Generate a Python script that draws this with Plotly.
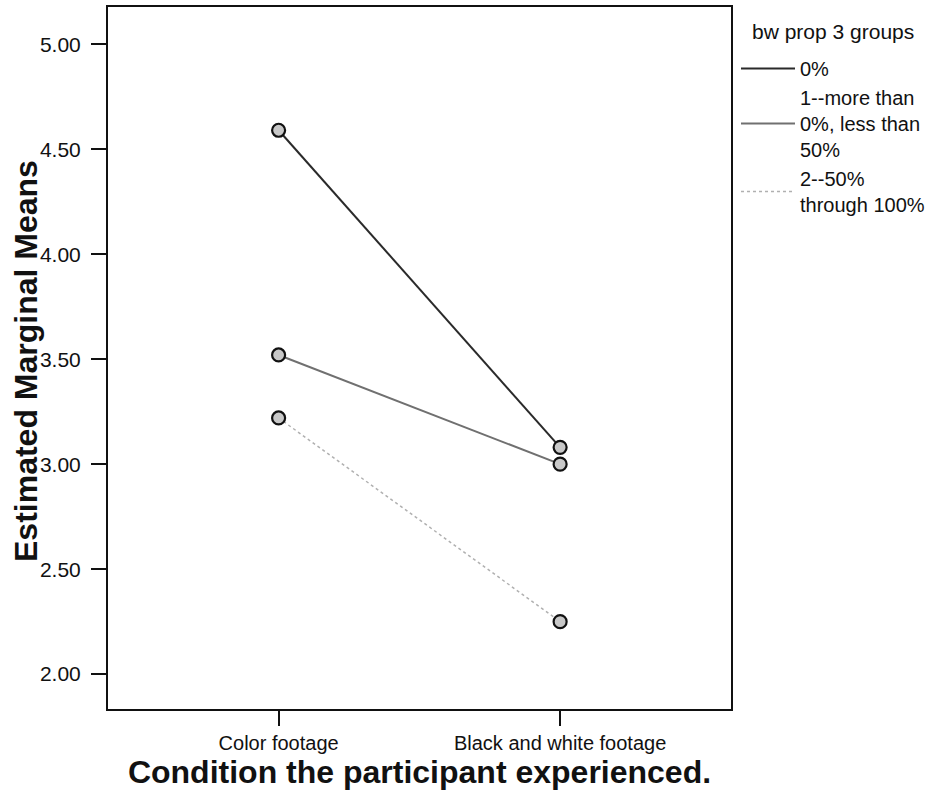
import plotly.graph_objects as go

categories = ["Color footage", "Black and white footage"]
group_names = ["0%", "1--more than<br>0%, less than<br>50%", "2--50%<br>through 100%"]
group_0 = [4.59, 3.08]
group_1 = [3.52, 3.00]
group_2 = [3.22, 2.25]
y_ticks = [2.0, 2.5, 3.0, 3.5, 4.0, 4.5, 5.0]
y_tick_labels = ["2.00", "2.50", "3.00", "3.50", "4.00", "4.50", "5.00"]
legend_title = "bw prop 3 groups"
y_title = "Estimated Marginal Means"
x_title = "Condition the participant experienced."

series = [group_0, group_1, group_2]
line_colors = ["#2a2a2a", "#707070", "#b0b0b0"]
line_widths = [2, 2, 1.5]
line_dash = ["solid", "solid", "dot"]

fig = go.Figure()
for i, (name, vals, col, w, dash) in enumerate(zip(group_names, series, line_colors, line_widths, line_dash)):
    fig.add_trace(go.Scatter(
        x=[0, 1], y=vals, name=name, mode="lines+markers",
        legendgroup=f"g{i}", showlegend=False,
        line=dict(color=col, width=w, dash=dash),
        marker=dict(symbol="circle", size=13, color="#c8c8c8",
                    line=dict(color="#111111", width=2.2)),
    ))
    # legend-only entry (line sample without marker)
    fig.add_trace(go.Scatter(
        x=[None], y=[None], name=name, mode="lines",
        legendgroup=f"g{i}", showlegend=True,
        line=dict(color=col, width=w, dash=dash),
    ))

font_main = "Liberation Sans, Arial, sans-serif"

fig.add_annotation(
    text=legend_title, xref="paper", yref="paper",
    x=1.0 + (750 - 731) / 623, y=1 - (30 - 5) / 704,
    xanchor="left", yanchor="middle", showarrow=False,
    font=dict(size=21, family=font_main, color="#111111"),
)
fig.add_annotation(
    text=f"<b>{y_title}</b>", xref="paper", yref="paper",
    x=(26 - 108) / 623, y=1 - (360 - 5) / 704,
    xanchor="center", yanchor="middle", textangle=-90, showarrow=False,
    font=dict(size=32, family=font_main, color="#111111"),
)

fig.update_layout(
    width=948, height=804,
    margin=dict(l=108, r=217, t=5, b=95),
    paper_bgcolor="white", plot_bgcolor="white",
    font=dict(family=font_main, size=20, color="#111111"),
    showlegend=True,
    legend=dict(
        x=1.0 + (736 - 731) / 623, xanchor="left",
        y=1 - (47 - 5) / 704, yanchor="top",
        font=dict(size=20), tracegroupgap=0,
        itemwidth=54, bgcolor="rgba(0,0,0,0)", valign="middle",
    ),
    xaxis=dict(
        range=[-0.606, 1.607],
        tickmode="array", tickvals=[0, 1], ticktext=categories,
        showline=True, linecolor="#111111", linewidth=2, mirror=True,
        ticks="outside", ticklen=15, tickwidth=1.5, tickcolor="#111111",
        showgrid=False, zeroline=False,
        tickfont=dict(size=20), ticklabelstandoff=0,
        title=dict(text=f"<b>{x_title}</b>",
                   font=dict(size=32, family=font_main), standoff=6),
    ),
    yaxis=dict(
        range=[1.834, 5.177],
        tickmode="array", tickvals=y_ticks, ticktext=y_tick_labels,
        showline=True, linecolor="#111111", linewidth=2, mirror=True,
        ticks="outside", ticklen=15, tickwidth=1.5, tickcolor="#111111",
        showgrid=False, zeroline=False,
        tickfont=dict(size=21), ticklabelstandoff=6,
    ),
)

fig.write_html("out.html", config={"displayModeBar": False},
               post_script="document.body.style.margin='0';")
